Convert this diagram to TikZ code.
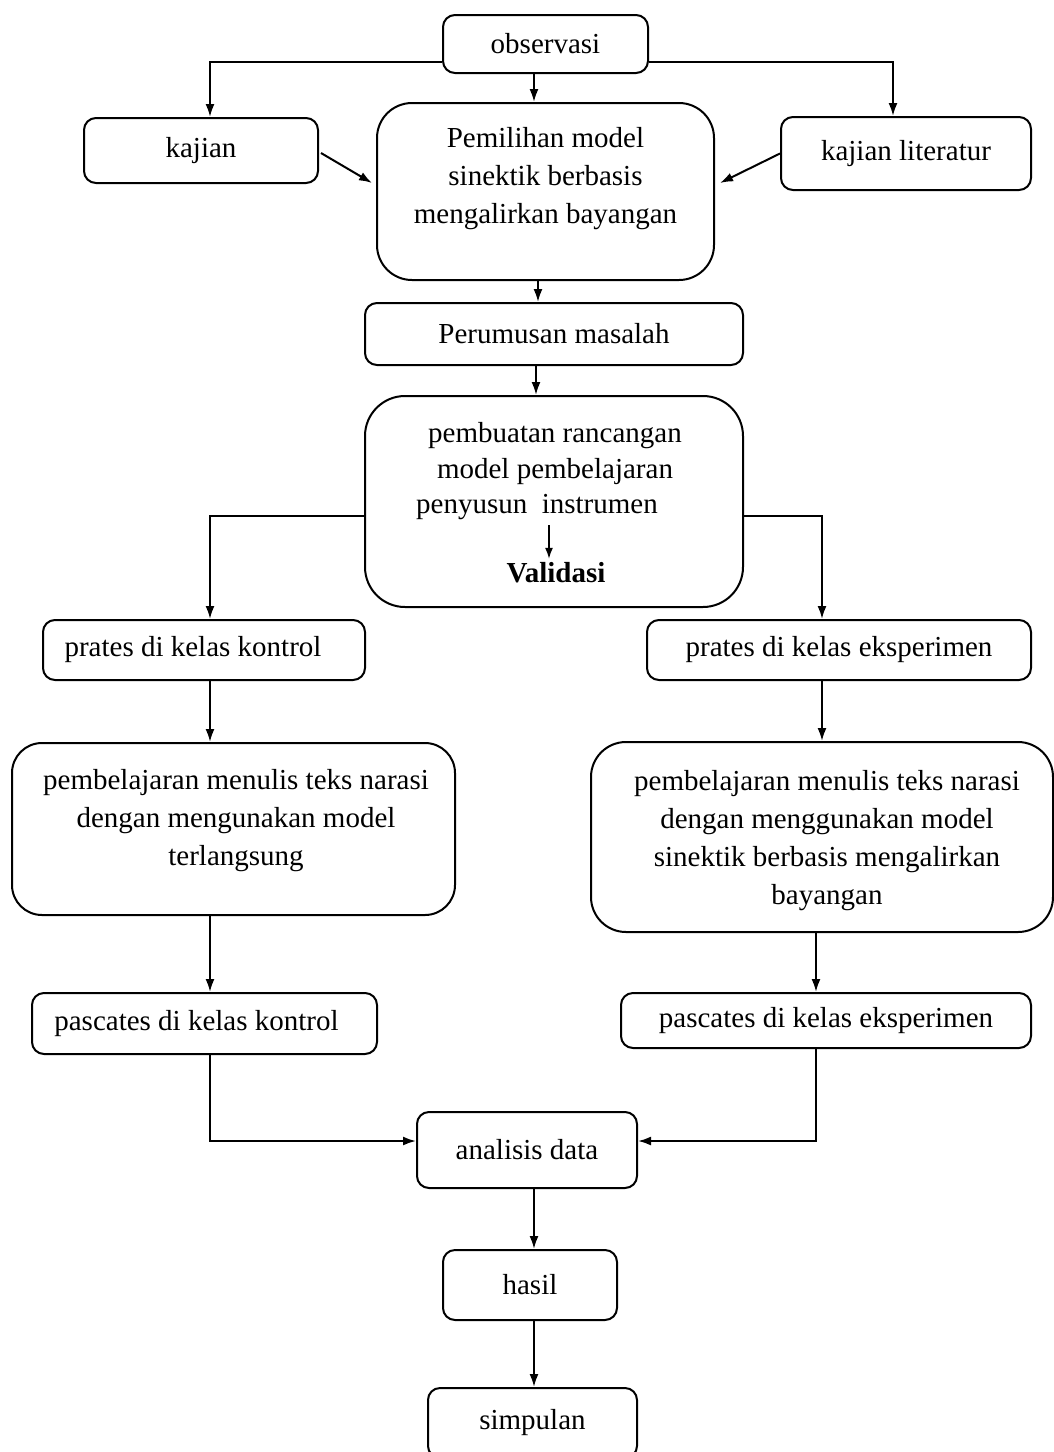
\documentclass[tikz,border=0pt]{standalone}
\usepackage{fontspec}
\setmainfont{Liberation Serif}
\usetikzlibrary{arrows.meta,calc}
\begin{document}
\begin{tikzpicture}[x=1pt,y=-1pt,
  box/.style={draw, line width=2pt, rounded corners=12pt, inner sep=0pt, align=center, font=\fontsize{29}{38}\selectfont},
  txt/.style={inner sep=0pt, align=center, font=\fontsize{29}{38}\selectfont},
  arr/.style={line width=2pt, -{Latex[length=13pt,width=9pt]}}]
\useasboundingbox (0,0) rectangle (1054,1452);

% boxes
\node[box, minimum width=205pt, minimum height=58pt] (obs) at (545.5,44) {observasi};
\node[box, minimum width=234pt, minimum height=65pt] (kaj) at (201,150.5) {kajian};
\node[box, minimum width=337pt, minimum height=177pt, rounded corners=35pt] (pem) at (545.5,191.5) {};
\node[txt] (tpem) at (545.5,179) {Pemilihan model\\sinektik berbasis\\mengalirkan bayangan};
\node[box, minimum width=250pt, minimum height=73pt] (lit) at (906,153.5) {kajian literatur};
\node[box, minimum width=378pt, minimum height=62pt] (rum) at (554,334) {Perumusan masalah};
\node[box, minimum width=378pt, minimum height=211pt, rounded corners=40pt] (buat) at (554,501.5) {};
\node[txt, font=\fontsize{29}{36}\selectfont] (tb1) at (555,454) {pembuatan rancangan\\model pembelajaran};
\node[txt] (tb3) at (537,507) {penyusun~~instrumen};
\node[txt, font=\fontsize{29}{36}\selectfont\bfseries] (tval) at (556,573) {Validasi};
\node[box, minimum width=322pt, minimum height=60pt] (prk) at (204,650) {prates di kelas kontrol\hspace*{22pt}};
\node[box, minimum width=384pt, minimum height=60pt] (pre) at (839,650) {prates di kelas eksperimen};
\node[box, minimum width=443pt, minimum height=172pt, rounded corners=30pt] (blk) at (233.5,829) {};
\node[txt] (tblk) at (236,821) {pembelajaran menulis teks narasi\\dengan mengunakan model\\terlangsung};
\node[box, minimum width=462pt, minimum height=190pt, rounded corners=35pt] (ble) at (822,837) {};
\node[txt] (tble) at (827,841) {pembelajaran menulis teks narasi\\dengan menggunakan model\\sinektik berbasis mengalirkan\\bayangan};
\node[box, minimum width=345pt, minimum height=61pt] (psk) at (204.5,1023.5) {pascates di kelas kontrol\hspace*{16pt}};
\node[box, minimum width=410pt, minimum height=55pt] (pse) at (826,1020.5) {pascates di kelas eksperimen};
\node[box, minimum width=220pt, minimum height=76pt] (ana) at (527,1150) {analisis~data};
\node[box, minimum width=174pt, minimum height=70pt] (has) at (530,1285) {hasil};
\node[box, minimum width=209pt, minimum height=70pt] (sim) at (532.5,1423) {simpulan};

% helper coordinates
\coordinate (xL) at (210,0);
\coordinate (xR) at (893,0);
\coordinate (x1) at (534,0);
\coordinate (x2) at (538,0);
\coordinate (x3) at (536,0);
\coordinate (xR2) at (822,0);
\coordinate (xR3) at (816,0);
\coordinate (xv) at (549,0);
\coordinate (y1) at (0,62);
\coordinate (y2) at (0,516);
\coordinate (y3) at (0,1141);

% connectors
\draw[arr] (obs.west |- y1) -| (kaj.north -| xL);
\draw[arr] (obs.east |- y1) -| (lit.north -| xR);
\draw[arr] (obs.south -| x1) -- (pem.north -| x1);
\draw[arr] ($(kaj.east)+(2,2.5)$) -- ($(pem.west)+(-4,-8.5)$);
\draw[arr] (lit.west) -- ($(pem.east)+(5,-8.5)$);
\draw[arr] (pem.south -| x2) -- (rum.north -| x2);
\draw[arr] (rum.south -| x3) -- (buat.north -| x3);
\draw[line width=1.6pt, -{Latex[length=11pt,width=8pt]}] ($(tb3.base -| xv)+(0,12)$) -- ($(tval.base -| xv)+(0,-24)$);
\draw[arr] (buat.west |- y2) -| (prk.north -| xL);
\draw[arr] (buat.east |- y2) -| (pre.north -| xR2);
\draw[arr] (prk.south -| xL) -- (blk.north -| xL);
\draw[arr] (pre.south -| xR2) -- (ble.north -| xR2);
\draw[arr] (blk.south -| xL) -- (psk.north -| xL);
\draw[arr] (ble.south -| xR3) -- (pse.north -| xR3);
\draw[arr] (psk.south -| xL) |- (ana.west |- y3);
\draw[arr] (pse.south -| xR3) |- (ana.east |- y3);
\draw[arr] (ana.south -| x1) -- (has.north -| x1);
\draw[arr] (has.south -| x1) -- (sim.north -| x1);
\end{tikzpicture}
\end{document}
